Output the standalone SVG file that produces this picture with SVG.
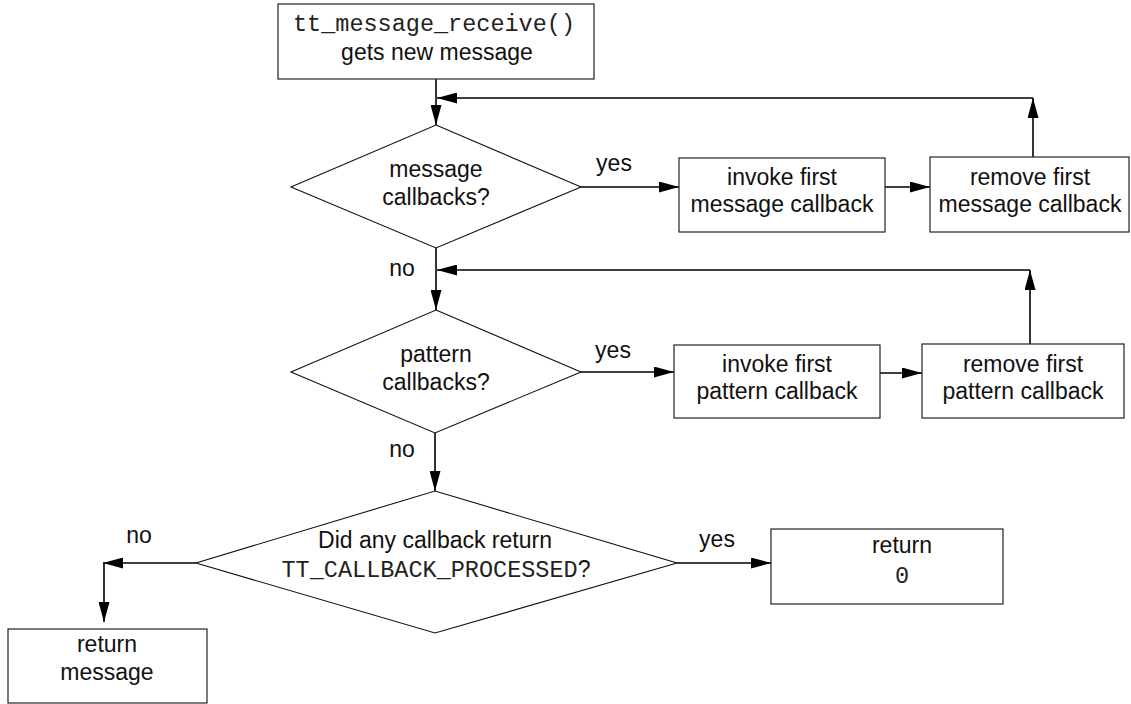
<svg xmlns="http://www.w3.org/2000/svg" width="1131" height="704" viewBox="0 0 1131 704">
  <style>
    .box { fill: #ffffff; stroke: #222222; stroke-width: 1.2; }
    .dia { fill: #ffffff; stroke: #111111; stroke-width: 1.1; }
    .wire { fill: none; stroke: #000000; stroke-width: 1.6; }
    .arr { marker-end: url(#head); }
    text { font-family: "Liberation Sans", Arial, sans-serif; font-size: 23px; fill: #111111; text-anchor: middle; }
    .mono { font-family: "Liberation Mono", "Courier New", monospace; font-size: 23.5px; fill: #222222; }
  </style>
  <defs>
    <marker id="head" viewBox="0 0 20 11" refX="20" refY="5.5" markerWidth="20" markerHeight="11" markerUnits="userSpaceOnUse" orient="auto">
      <path d="M0,0 L20,5.5 L0,11 Z" fill="#000000"/>
    </marker>
  </defs>

  <!-- connectors -->
  <g id="connectors">
    <line class="wire arr" x1="436" y1="79" x2="436" y2="125"/>
    <line class="wire arr" x1="1033" y1="157" x2="1033" y2="98"/>
    <line class="wire arr" x1="1033" y1="98" x2="437" y2="98"/>
    <line class="wire arr" x1="581" y1="187" x2="679" y2="187"/>
    <line class="wire arr" x1="885" y1="187" x2="930" y2="187"/>

    <line class="wire arr" x1="436" y1="248" x2="436" y2="310"/>
    <line class="wire arr" x1="1030" y1="344" x2="1030" y2="270"/>
    <line class="wire arr" x1="1030" y1="270" x2="437" y2="270"/>
    <line class="wire arr" x1="581" y1="372" x2="674" y2="372"/>
    <line class="wire arr" x1="880" y1="373" x2="922" y2="373"/>

    <line class="wire arr" x1="435" y1="433" x2="435" y2="491"/>
    <line class="wire arr" x1="677" y1="563" x2="771" y2="563"/>
    <line class="wire arr" x1="196" y1="563" x2="103" y2="563"/>
    <line class="wire arr" x1="104" y1="563" x2="104" y2="622"/>

    <text x="614" y="171">yes</text>
    <text x="402" y="276">no</text>
    <text x="613" y="358">yes</text>
    <text x="402" y="457">no</text>
    <text x="717" y="547">yes</text>
    <text x="139" y="543">no</text>
  </g>

  <g id="receive">
    <rect class="box" x="278" y="4" width="316" height="75"/>
    <text class="mono" x="434" y="31">tt_message_receive()</text>
    <text x="437" y="60">gets new message</text>
  </g>

  <g id="msg-decision">
    <polygon class="dia" points="436,125 581,187 436,248 291,187"/>
    <text x="436" y="177">message</text>
    <text x="436" y="205">callbacks?</text>
  </g>

  <g id="invoke-msg">
    <rect class="box" x="679" y="158" width="206" height="74"/>
    <text x="782" y="185">invoke first</text>
    <text x="782" y="212">message callback</text>
  </g>

  <g id="remove-msg">
    <rect class="box" x="930" y="157" width="199" height="75"/>
    <text x="1030" y="185">remove first</text>
    <text x="1030" y="212">message callback</text>
  </g>

  <g id="pat-decision">
    <polygon class="dia" points="436,310 581,372 435,433 291,372"/>
    <text x="436" y="362">pattern</text>
    <text x="436" y="390">callbacks?</text>
  </g>

  <g id="invoke-pat">
    <rect class="box" x="674" y="345" width="206" height="73"/>
    <text x="777" y="372">invoke first</text>
    <text x="777" y="399">pattern callback</text>
  </g>

  <g id="remove-pat">
    <rect class="box" x="922" y="344" width="202" height="74"/>
    <text x="1023" y="372">remove first</text>
    <text x="1023" y="399">pattern callback</text>
  </g>

  <g id="processed-decision">
    <polygon class="dia" points="435,491 677,563 435,633 196,563"/>
    <text x="435" y="548">Did any callback return</text>
    <text x="436" y="577"><tspan class="mono">TT_CALLBACK_PROCESSED</tspan>?</text>
  </g>

  <g id="return-zero">
    <rect class="box" x="771" y="529" width="232" height="75"/>
    <text x="902" y="553">return</text>
    <text class="mono" x="902" y="583">0</text>
  </g>

  <g id="return-message">
    <rect class="box" x="8" y="629" width="199" height="74"/>
    <text x="107" y="652">return</text>
    <text x="107" y="680">message</text>
  </g>
</svg>
